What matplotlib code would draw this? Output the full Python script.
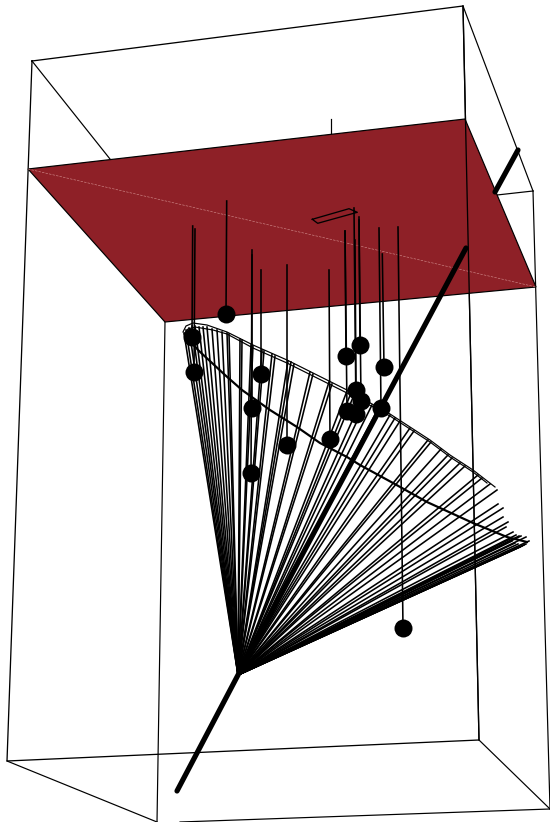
import numpy as np
import matplotlib
matplotlib.use('Agg')
import matplotlib.pyplot as plt

box_x = [32, 463, 479, 7, 32]
box_y = [61, 6, 740, 761, 61]
edges = [
    ((463, 533), (6, 191)),
    ((497, 533), (195, 191)),
    ((533, 550), (191, 809)),
    ((180, 550), (822, 809)),
    ((7, 157), (761, 822)),
    ((479, 550), (740, 809)),
    ((165, 157), (322, 822)),
    ((32, 110), (61, 159)),
    ((331.4, 331.4), (119, 134)),
]
plane_x = [28, 465, 536, 165]
plane_y = [169, 119, 287, 322]
diag_x = [28, 536]
diag_y = [169, 287]
slot_x = [312.3, 349, 357.3, 317.7, 312.3]
slot_y = [219.3, 208.7, 212.3, 223.3, 219.3]

axis_low_x = [177, 238, 466]
axis_low_y = [791, 675, 248]
axis_high_x = [495, 518]
axis_high_y = [192, 150]

ball_x = [226, 192, 194, 261, 252, 251, 287, 330, 346, 360, 356, 361, 347, 356, 381, 384, 403]
ball_y = [314, 337, 372, 374, 408, 473, 445, 439, 356, 345, 390, 401, 411, 414, 408, 367, 628]
top_x = [226.7, 192.7, 195, 261, 252, 252, 287, 329, 345, 359, 355, 359, 345, 354, 379, 382.3, 398]
top_y = [201, 226, 229, 270, 255, 250, 265, 270, 231, 217, 240, 220, 231, 208, 228, 254, 227]

apex_x = 238
apex_y = 675
end_x = [184, 186, 189, 192, 195, 199, 203, 207, 212, 217, 222, 227, 229, 240, 242, 251, 253, 262, 264,
         272, 275, 288, 291, 294, 310, 313, 329, 332, 347, 351, 354, 362, 366, 372, 378, 390, 395, 400,
         410, 414, 428, 431, 441, 448, 452, 460, 465, 478, 482, 490, 497, 498, 503, 503, 508, 506, 513,
         516, 519, 521, 526, 529, 526, 524, 522, 520, 518, 515, 512, 510]
end_y = [333, 330, 328, 326, 326, 327, 327, 327, 329, 330, 332, 333, 334, 339, 340, 345, 346, 350, 351,
         354, 356, 361, 362, 364, 372, 374, 382, 384, 391, 393, 395, 399, 402, 405, 409, 415, 418, 421,
         428, 431, 440, 442, 449, 455, 458, 463, 466, 475, 478, 484, 490, 504, 508, 517, 522, 527, 532,
         535, 536, 536, 537, 541, 544, 545, 546, 547, 544, 543, 541, 539]

rim_out_x = [183, 186, 193, 207, 227, 253, 287, 313, 347, 390, 430, 450, 473, 495]
rim_out_y = [332, 326, 323, 325, 332, 345, 360, 373, 390, 414, 440, 455, 470, 487]
rim_in_x = [184, 188, 195, 213, 227, 253, 287, 313, 347, 390, 430, 450, 473, 487]
rim_in_y = [334, 329, 327, 330, 334, 348, 363, 376, 393, 416, 442, 457, 472, 483]
rim_low_x = [186, 198, 225, 242, 270, 297, 320, 347, 360, 393, 427, 473, 507, 527]
rim_low_y = [336, 350, 375, 390, 410, 427, 443, 457, 465, 483, 502, 523, 537, 542]

fig = plt.figure(figsize=(5.5, 8.22), dpi=100)
ax = fig.add_axes([0, 0, 1, 1])
ax.set_xlim(0, 550)
ax.set_ylim(822, 0)
ax.axis('off')

px = 0.72  # line widths below are given in image pixels

ax.plot(box_x, box_y, color='black', lw=1.3*px)
for ex, ey in edges:
    ax.plot(ex, ey, color='black', lw=1.2*px)

ax.fill(plane_x, plane_y, facecolor='#8e2027', edgecolor='black', lw=1.2*px, zorder=2)
ax.plot(diag_x, diag_y, color='#d08a8a', lw=0.6*px, ls=(0, (4, 2)), zorder=3)
ax.plot(box_x[1:3], box_y[1:3], color='black', lw=1.3*px, zorder=3)
ax.plot(slot_x, slot_y, color='black', lw=1.3*px, zorder=3)

ax.plot(axis_low_x, axis_low_y, color='black', lw=5.2*px, solid_capstyle='round', zorder=4)
ax.plot(axis_high_x, axis_high_y, color='black', lw=5.2*px, solid_capstyle='round', zorder=4)

for x, y in zip(end_x, end_y):
    ax.plot([apex_x, x], [apex_y, y], color='black', lw=1.6*px, zorder=4)
ax.plot(rim_out_x, rim_out_y, color='black', lw=1.2*px, zorder=4)
ax.plot(rim_in_x, rim_in_y, color='black', lw=1.2*px, zorder=4)
ax.plot(rim_low_x, rim_low_y, color='black', lw=2.2*px, zorder=4)

for i in range(len(ball_x)):
    ax.plot([top_x[i], ball_x[i]], [top_y[i], ball_y[i]], color='black', lw=1.6*px, zorder=5)
ax.scatter(ball_x, ball_y, s=(18*px)**2, color='black', linewidths=0, zorder=6)

fig.savefig('out.png', dpi=100)
